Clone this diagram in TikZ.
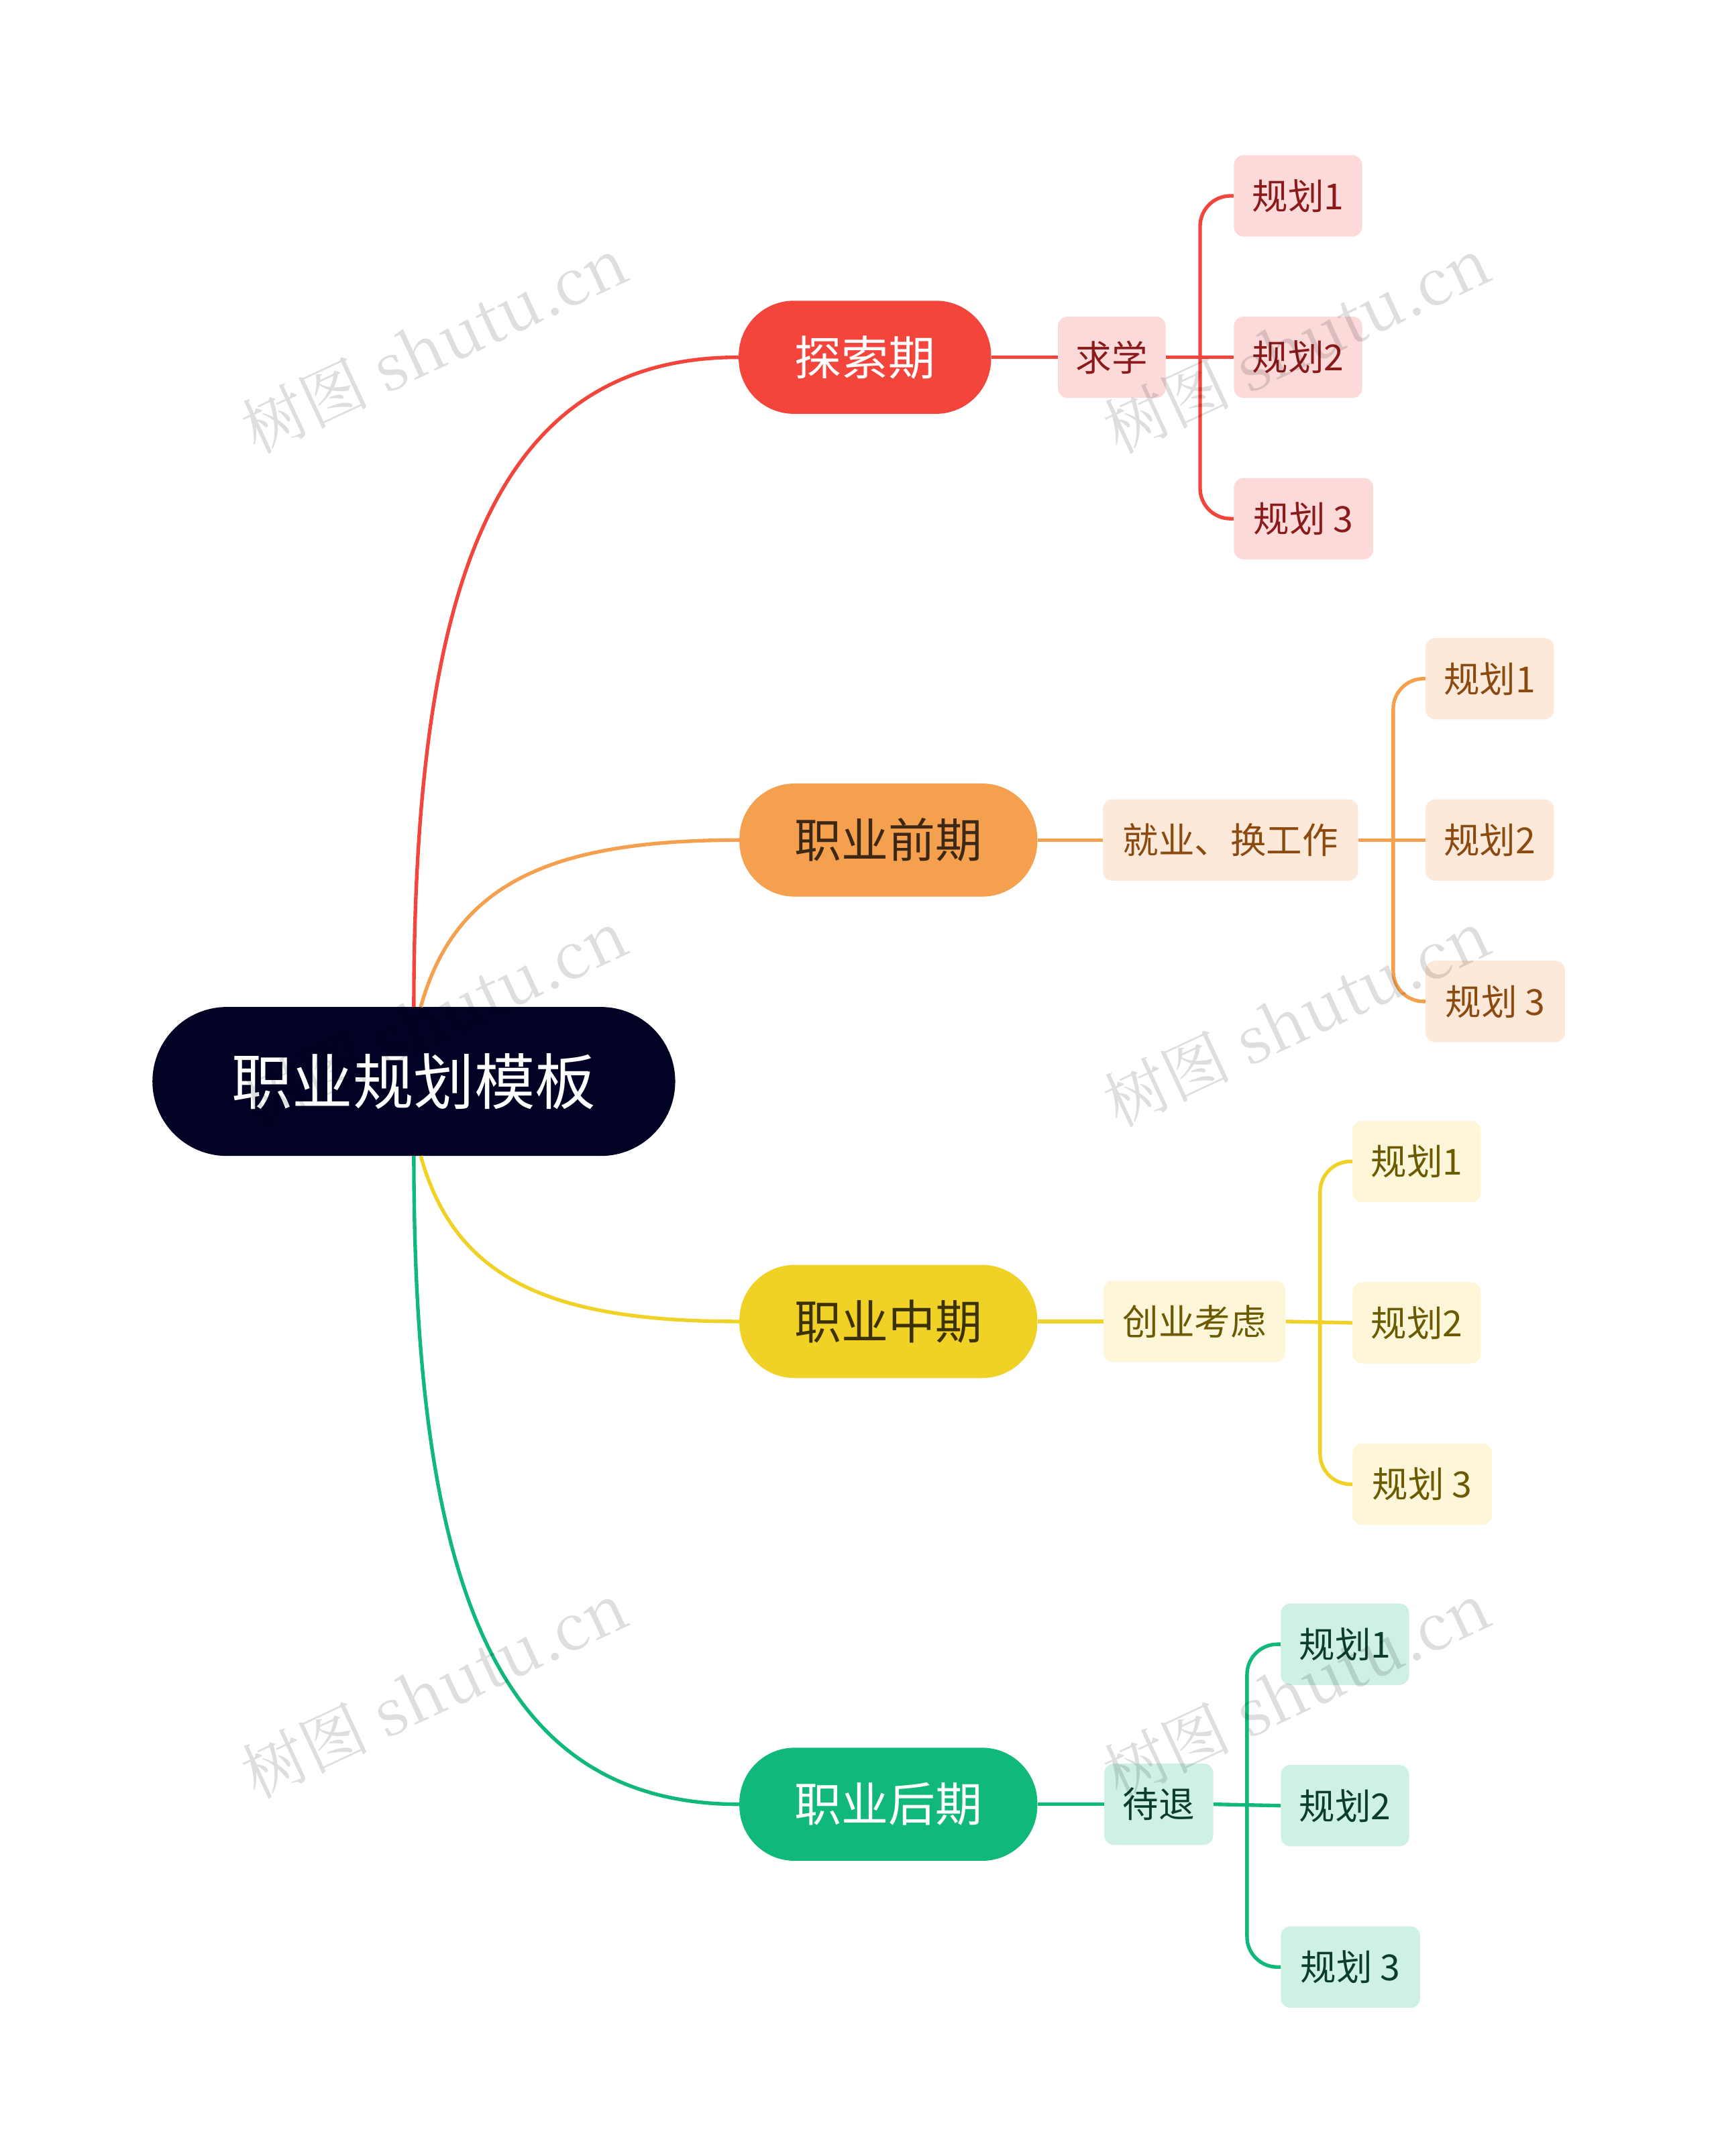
\documentclass[tikz,border=0pt]{standalone}
\usepackage{fontspec}
\setmainfont{Noto Sans CJK SC}
\newfontfamily\wm{Noto Serif CJK SC}
\begin{document}
\begin{tikzpicture}[x=1pt,y=-1pt,
 pill/.style={rounded corners=40pt,minimum height=82pt,inner sep=0pt,font=\fontsize{34}{38}\selectfont},
 sub/.style={rounded corners=7pt,minimum height=59pt,inner sep=0pt,font=\fontsize{26}{30}\selectfont},
 link/.style={line width=2.6pt}]
\useasboundingbox (0,0) rectangle (1245,1563);
\definecolor{cR}{HTML}{F3453B}\definecolor{cO}{HTML}{F5A04E}\definecolor{cY}{HTML}{F0D125}\definecolor{cG}{HTML}{10B97A}
\definecolor{bR}{HTML}{FDDADA}\definecolor{bO}{HTML}{FDE9D9}\definecolor{bY}{HTML}{FDF6D8}\definecolor{bG}{HTML}{CFF1E3}
\definecolor{tR}{HTML}{8B1A1A}\definecolor{tO}{HTML}{8A4A10}\definecolor{tY}{HTML}{6B5A00}\definecolor{tG}{HTML}{0B3D2A}
\node[fill={rgb,255:red,2;green,3;blue,36},text=white,rounded corners=54pt,minimum width=379pt,minimum height=108pt,font=\fontsize{44}{48}\selectfont] (root) at (300,784) {职业规划模板};
% branches
\node[pill,fill=cR,text=white,minimum width=183pt] (b1) at (627,259) {探索期};
\node[pill,fill=cO,text={rgb,255:red,60;green,40;blue,20},minimum width=216pt] (b2) at (644,609) {职业前期};
\node[pill,fill=cY,text={rgb,255:red,60;green,50;blue,0},minimum width=216pt] (b3) at (644,958) {职业中期};
\node[pill,fill=cG,text=white,minimum width=216pt] (b4) at (644,1308) {职业后期};
\coordinate (r1) at (300,730);\coordinate (r2) at (305,730);\coordinate (r3) at (305,838);\coordinate (r4) at (300,838);
\draw[link,cR] (r1) .. controls (300,420) and (360,259) .. (b1.west);
\draw[link,cO] (r2) .. controls (330,640) and (400,609) .. (b2.west);
\draw[link,cY] (r3) .. controls (330,928) and (400,958) .. (b3.west);
\draw[link,cG] (r4) .. controls (300,1150) and (360,1308) .. (b4.west);
% subs
\node[sub,fill=bR,text=tR,minimum width=78pt] (s1) at (806,259) {求学};
\node[sub,fill=bO,text=tO,minimum width=185pt] (s2) at (892,609) {就业、换工作};
\node[sub,fill=bY,text=tY,minimum width=132pt] (s3) at (866,958) {创业考虑};
\node[sub,fill=bG,text=tG,minimum width=79pt] (s4) at (840,1308) {待退};
\draw[link,cR] (b1.east)--(s1.west);\draw[link,cO] (b2.east)--(s2.west);
\draw[link,cY] (b3.east)--(s3.west);\draw[link,cG] (b4.east)--(s4.west);
% leaves
\foreach \i/\x/\y/\c/\b/\t/\bx in {1/941/142/cR/bR/tR/870,2/1080/492/cO/bO/tO/1010,3/1027/842/cY/bY/tY/957,4/975/1192/cG/bG/tG/904}{
 \node[sub,fill=\b,text=\t,minimum width=93pt] (l\i a) at (\x,\y) {规划1};
 \node[sub,fill=\b,text=\t,minimum width=93pt] (l\i b) at (\x,\y+117) {规划2};
 \node[sub,fill=\b,text=\t,minimum width=101pt] (l\i c) at (\x+4,\y+234) {规划 3};
 \coordinate (k\i) at (\bx,\y+117);
 \draw[link,\c] (s\i.east)--(l\i b.west);
 \draw[link,\c,rounded corners=22pt] (l\i a.west)-|(k\i)|-(l\i c.west);
}
% watermarks
\foreach \p in {(315,250),(940,250),(315,738),(940,738),(315,1225),(940,1225)}{
 \node[rotate=25,text=black,opacity=0.13,font=\wm\fontsize{46}{50}\selectfont] at \p {树图 shutu.cn};}
\end{tikzpicture}
\end{document}
